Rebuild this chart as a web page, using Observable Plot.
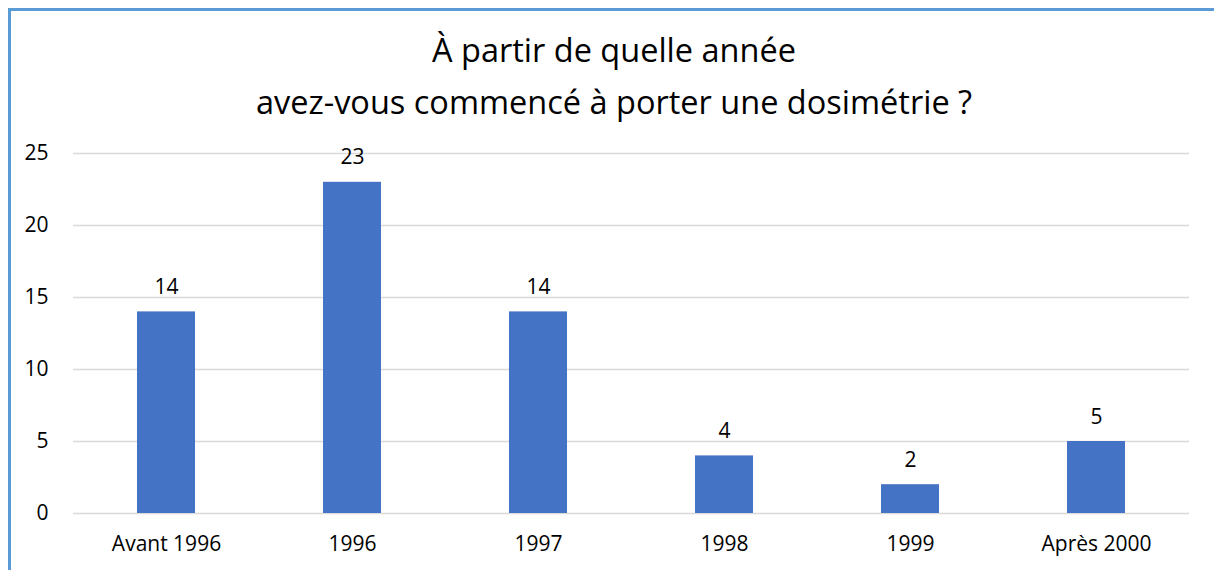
<!DOCTYPE html>
<html>
<head>
<meta charset="utf-8">
<script src="https://cdn.jsdelivr.net/npm/d3@7"></script>
<script src="https://cdn.jsdelivr.net/npm/@observablehq/plot@0.6"></script>
<style>
  html, body { margin: 0; padding: 0; background: #fff; width: 1214px; height: 570px; overflow: hidden; }
  #frame { position: absolute; left: 8px; top: 8px; width: 1300px; height: 700px; border: 3px solid #5B9BD5; box-sizing: border-box; }
  #title { position: absolute; left: 0; top: 24px; width: 1228px; text-align: center; font-family: "Open Sans", sans-serif; font-size: 32.5px; line-height: 52px; color: #000; }
  #chart { position: absolute; left: 0; top: 130px; }
</style>
</head>
<body>
<div id="frame"></div>
<div id="title">À partir de quelle année<br>avez-vous commencé à porter une dosimétrie ?</div>
<div id="chart"></div>
<script>
const categories = ["Avant 1996", "1996", "1997", "1998", "1999", "Après 2000"];
const values = [14, 23, 14, 4, 2, 5];
const yTicks = [0, 5, 10, 15, 20, 25];

const data = categories.map((c, i) => ({ category: c, value: values[i] }));

const chart = Plot.plot({
  width: 1214,
  height: 440,
  marginTop: 23,
  marginBottom: 57,
  marginLeft: 73,
  marginRight: 25,
  style: { fontFamily: "Open Sans, sans-serif", fontSize: "21px", color: "#000", background: "transparent" },
  x: { domain: categories, paddingInner: 0.688, paddingOuter: 0.344, label: null, tickSize: 0, tickPadding: 23 },
  y: { domain: [0, 25], ticks: yTicks, label: null, tickSize: 0, tickPadding: 25 },
  marks: [
    Plot.gridY(yTicks, { stroke: "#d9d9d9", strokeOpacity: 1, strokeWidth: 1.5 }),
    Plot.barY(data, { x: "category", y: "value", fill: "#4472C4" }),
    Plot.text(data, { x: "category", y: "value", text: d => String(d.value), lineAnchor: "bottom", dy: -18, fontSize: 21, fill: "#000" })
  ]
});
document.getElementById("chart").appendChild(chart);
</script>
</body>
</html>
